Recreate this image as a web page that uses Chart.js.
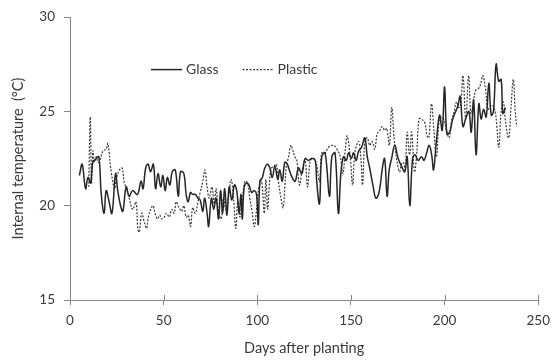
<!DOCTYPE html>
<html>
<head>
<meta charset="utf-8">
<script src="https://cdn.jsdelivr.net/npm/chart.js@4"></script>
<style>
  body { margin: 0; background: #fff; }
  #wrap { width: 558px; height: 361px; }
</style>
</head>
<body>
<div id="wrap"><canvas id="tempChart"></canvas></div>
<script>
// readings estimated from the figure
const glassDays = [5, 6.5, 8.3, 9.6, 11, 12.2, 14, 15.4, 16.7, 18.2, 19.3, 20.7, 22.4, 24.3, 25.5, 27, 28.2, 30,
  31.6, 33.4, 36, 37.9, 39, 40.4, 41.7, 43, 44.5, 45.7, 47, 48.4, 49.6, 50.8, 52, 53.3, 54.6, 56.2, 57.8, 59,
  60.8, 62, 63.1, 64.3, 65.5, 66.9, 68.3, 69.5, 70.9, 71.9, 73.2, 74, 75.5, 76.7, 78, 79.3, 80.4, 81.5, 82.6,
  83.8, 85, 86.4, 87.8, 89, 90.3, 91.3, 92, 93, 94.3, 95.5, 97, 98.4, 99.6, 100.5, 101.4, 102.7, 104, 105.5,
  106.7, 108, 109.4, 110.9, 112, 113.3, 114.7, 116, 117.4, 118.6, 120.2, 122, 123.8, 125.5, 127.3, 129, 130.9,
  131.7, 133.2, 134.4, 136.2, 138.5, 139.8, 141.5, 143.3, 144.6, 146, 147.5, 148.7, 150.2, 151.4, 152.8, 154.1,
  155.7, 157.4, 158.7, 160, 161.9, 163.3, 165, 166.8, 168, 169.3, 170.4, 171.7, 173.4, 175.2, 177, 178.7, 180,
  181.4, 182.9, 184.2, 185.9, 187.7, 189, 190.4, 191.8, 193.1, 194.1, 195.6, 197.3, 198.7, 200, 201.2, 202.7,
  204.1, 205.5, 207.1, 208.3, 209.8, 211.5, 213, 214.2, 215.5, 216.8, 218.3, 219.5, 220.8, 222.2, 223.6, 224.9,
  226.1, 227.5, 228.9, 230.2, 231.1, 232.5];
const glassTemps = [21.6, 22.2, 20.9, 21.5, 21.2, 22.3, 22.5, 22.6, 20.6, 19.6, 20.8, 20.3, 19.6, 21.7, 20.8, 20.0, 19.7, 21.0,
  20.5, 20.8, 20.6, 21.3, 20.9, 22.0, 22.2, 21.8, 22.2, 20.9, 21.7, 21.0, 21.6, 20.8, 21.5, 21.1, 21.8, 21.9, 20.5, 21.8,
  21.7, 20.6, 20.2, 20.7, 20.6, 20.6, 20.4, 20.3, 19.7, 20.4, 19.6, 18.9, 20.4, 19.8, 20.4, 19.3, 20.8, 19.6, 20.9,
  19.5, 21.0, 20.3, 21.1, 20.8, 19.6, 20.6, 19.3, 21.0, 21.2, 21.1, 20.7, 20.8, 20.6, 19.0, 21.3, 21.5, 22.0, 22.2,
  22.0, 21.5, 22.1, 21.4, 21.9, 21.3, 22.3, 22.2, 21.8, 21.5, 21.3, 22.0, 21.7, 22.5, 22.4, 22.5, 22.4,
  21.3, 20.1, 22.6, 22.8, 20.5, 22.6, 22.8, 19.6, 21.7, 22.6, 22.4, 22.8, 22.5, 22.8, 22.4, 22.9,
  23.1, 23.6, 22.6, 22.0, 21.0, 20.4, 20.7, 22.0, 22.5, 20.5, 21.9, 22.5, 23.2, 22.5, 22.1, 21.8, 22.6,
  20.0, 22.5, 22.7, 22.4, 22.6, 22.4, 22.8, 23.2, 22.7, 21.9, 23.4, 24.8, 24.0, 26.3, 23.8, 23.9,
  24.5, 24.9, 25.3, 25.8, 24.2, 24.7, 25.0, 23.9, 25.6, 22.7, 25.4, 24.6, 25.1, 24.7, 26.5, 24.8,
  25.0, 27.5, 26.6, 26.7, 24.9, 25.2];

const plasticDays = [10, 10.8, 11.5, 12.2, 13, 14, 15, 16, 17.6, 19.3, 20.2, 22, 23.8, 24.7, 26.4, 27.8, 29, 29.8,
  31.6, 33.5, 35.2, 36.2, 37, 38.3, 39.7, 40.9, 41.8, 43.1, 44.3, 45.4, 46.7, 47.9, 49, 50.3, 51.5, 53, 54.3,
  55.6, 56.7, 58.2, 59.6, 60.8, 62, 63.1, 64.4, 65.5, 66.9, 68.3, 69.5, 70.9, 72, 73.2, 74.3, 75.8, 77, 78,
  79.3, 80.7, 81.9, 83.2, 84.6, 86, 87.3, 88.5, 89.6, 90.7, 92, 93.4, 94.8, 96, 97.2, 98.4, 99.6, 100.9, 102.3,
  103.7, 104.6, 105.5, 106.7, 107.6, 109, 110.2, 111.4, 112.8, 113.8, 114.7, 115.6, 116.5, 117.9, 118.8, 120,
  121.1, 122.5, 123.8, 125.5, 126.8, 128, 129, 130.3, 131.6, 133.2, 134.4, 136.2, 138, 140.7, 142.5, 144.3,
  145.7, 147, 148, 149.6, 150.9, 152.1, 154.1, 155.3, 156.2, 157.4, 158.7, 160, 161.3, 162.7, 164, 165.4, 166.8,
  168, 169.1, 170.5, 171.8, 173, 174.5, 175.9, 177, 178, 179, 180, 181.3, 182.4, 183.9, 185, 186.3, 187.5, 189.4,
  190.6, 191.6, 193, 194.3, 195.6, 197.1, 198.4, 199.5, 201, 202.5, 203.7, 205.1, 206.4, 207.6, 208.6, 209.8,
  211.3, 212.8, 214, 215.1, 216.5, 217.9, 219.1, 220.4, 221.8, 223.1, 224.4, 225.8, 227.3, 228.9, 230.2, 231.4,
  232.6, 234.2, 235.5, 236.7, 237.7, 238.5];
const plasticTemps = [21.0, 24.7, 21.2, 22.9, 22.3, 22.6, 22.3, 22.4, 22.9, 23.0, 23.3, 21.8, 20.9, 21.4, 21.9, 22.0, 21.2, 21.0,
  20.4, 19.8, 20.2, 18.8, 18.6, 19.6, 19.1, 18.8, 19.4, 19.8, 20.0, 19.6, 19.3, 19.5, 19.3, 19.4, 19.6, 19.4, 19.8,
  19.6, 20.2, 19.9, 19.7, 20.0, 19.4, 19.5, 18.9, 19.9, 19.6, 20.2, 20.7, 21.3, 21.9, 21.0, 20.4, 21.0, 20.1, 20.9,
  19.7, 19.3, 20.4, 19.8, 20.4, 21.4, 20.4, 18.8, 20.3, 19.4, 20.3, 21.3, 21.2, 20.4, 19.7, 18.9, 19.8, 21.0, 21.3,
  19.6, 21.4, 19.8, 21.5, 22.0, 22.1, 22.2, 21.2, 20.3, 19.9, 21.0, 22.2, 22.5, 23.2, 23.0, 22.6,
  22.4, 21.1, 21.8, 22.4, 21.0, 22.2, 22.5, 22.5, 22.2, 21.3, 22.8, 22.8, 23.1, 23.2, 23.0, 22.6,
  21.7, 23.0, 23.7, 22.6, 21.1, 22.8, 23.4, 22.5, 21.1, 23.4, 23.6, 23.2, 23.4, 23.0, 23.8, 24.0, 24.2,
  24.0, 24.1, 23.2, 25.2, 23.6, 22.4, 21.8, 22.2, 22.3, 21.9, 23.9, 22.7, 23.9, 21.8, 22.6, 24.6, 24.6, 24.4,
  23.7, 23.6, 25.4, 24.0, 22.6, 24.5, 24.7, 24.6, 24.0, 23.6, 24.5, 25.0, 25.5, 25.2, 25.4, 26.9,
  24.6, 26.9, 24.9, 25.3, 26.1, 26.2, 26.4, 26.9, 26.2, 25.1, 25.3, 25.3, 24.8, 23.1, 25.0, 25.5,
  24.4, 23.6, 25.3, 26.7, 25.0, 24.2];

const seriesNames = ['Glass', 'Plastic'];
const xLabel = 'Days after planting';
const yLabel = 'Internal temperature\u2002(\u00B0C)';

const toPoints = (days, temps) => days.map((d, i) => ({ x: d, y: temps[i] }));

const axisGray = '#868686';
const textGray = '#3a3a3a';
const tickFont = { family: 'Lato', size: 13.5 };
const titleFont = { family: 'Lato', size: 14.5 };

// x ticks in the original cross the axis, so draw the inner half too
const innerTicks = {
    id: 'innerTicks',
    afterDraw(chart) {
        const ctx = chart.ctx;
        const xs = chart.scales.x;
        ctx.save();
        ctx.strokeStyle = axisGray;
        ctx.lineWidth = 1;
        xs.ticks.forEach(t => {
            const px = Math.round(xs.getPixelForValue(t.value)) + 0.5;
            ctx.beginPath();
            ctx.moveTo(px, xs.top);
            ctx.lineTo(px, xs.top - 5);
            ctx.stroke();
        });
        ctx.restore();
    }
};

// legend sits inside the plot area in the original
const innerLegend = {
    id: 'innerLegend',
    afterDatasetsDraw(chart) {
        const ctx = chart.ctx;
        const area = chart.chartArea;
        const y = area.top + 52;
        let x = area.left + 81;
        ctx.save();
        ctx.font = '14px Lato';
        ctx.textBaseline = 'middle';
        chart.data.datasets.forEach(ds => {
            ctx.strokeStyle = ds.borderColor;
            ctx.lineWidth = ds.borderWidth;
            ctx.setLineDash(ds.borderDash || []);
            ctx.beginPath();
            ctx.moveTo(x, y + 0.5);
            ctx.lineTo(x + 31, y + 0.5);
            ctx.stroke();
            ctx.setLineDash([]);
            ctx.fillStyle = textGray;
            ctx.fillText(ds.label, x + 35, y);
            x += 35 + ctx.measureText(ds.label).width + 24;
        });
        ctx.restore();
    }
};

const chart = new Chart(document.getElementById('tempChart'), {
    type: 'line',
    data: {
        datasets: [{
            label: seriesNames[0],
            data: toPoints(glassDays, glassTemps),
            borderColor: '#262626',
            borderWidth: 1.5,
            pointRadius: 0,
            tension: 0.4,
            fill: false
        }, {
            label: seriesNames[1],
            data: toPoints(plasticDays, plasticTemps),
            borderColor: '#3a3a3a',
            borderWidth: 1.2,
            borderDash: [2, 1.5],
            pointRadius: 0,
            tension: 0.4,
            fill: false
        }]
    },
    options: {
        responsive: true,
        maintainAspectRatio: false,
        animation: false,
        layout: { padding: { top: 14, right: 19, left: 0, bottom: 0 } },
        plugins: {
            legend: { display: false },
            tooltip: { enabled: false }
        },
        scales: {
            x: {
                type: 'linear',
                min: 0,
                max: 250,
                ticks: { stepSize: 50, color: textGray, font: tickFont, padding: 8 },
                grid: { drawOnChartArea: false, color: axisGray, tickLength: 5 },
                border: { color: axisGray },
                title: { display: true, text: xLabel, color: textGray, font: titleFont, padding: { top: 4 } },
                afterFit: s => { s.height = 61; }
            },
            y: {
                min: 15,
                max: 30,
                ticks: { stepSize: 5, color: textGray, font: tickFont, padding: 9 },
                grid: { drawOnChartArea: false, color: axisGray, tickLength: 6 },
                border: { color: axisGray },
                title: { display: true, text: yLabel, color: textGray, font: titleFont, padding: { top: 10, bottom: 4 } },
                afterFit: s => { s.width = 70; }
            }
        }
    },
    plugins: [innerTicks, innerLegend]
});
</script>
</body>
</html>
